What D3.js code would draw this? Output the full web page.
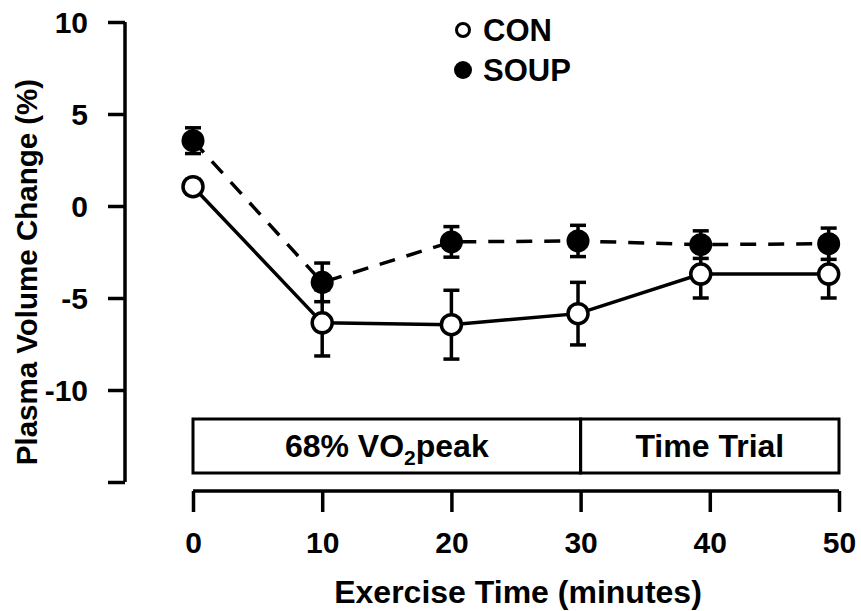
<!DOCTYPE html>
<html>
<head>
<meta charset="utf-8">
<script src="https://cdn.jsdelivr.net/npm/d3@7"></script>
<style>
  body { margin: 0; background: #fff; }
  svg text { font-family: "Liberation Sans", Arial, sans-serif; font-weight: bold; fill: #000; }
</style>
</head>
<body>
<svg id="chart" width="861" height="611"></svg>
<script>
// data
const times = [0, 10, 20, 29.8, 39.3, 49.2];
const conMean = [1.05, -6.35, -6.45, -5.85, -3.7, -3.7];
const conErr = [0.4, 1.8, 1.87, 1.7, 1.3, 1.3];
const soupMean = [3.55, -4.15, -1.95, -1.9, -2.1, -2.05];
const soupErr = [0.7, 1.05, 0.83, 0.85, 0.75, 0.85];
const xTicks = [0, 10, 20, 30, 40, 50];
const yTicks = [10, 5, 0, -5, -10, -15];
const yLabels = ["10", "5", "0", "-5", "-10", ""];
const phases = [
    { name: "68% VO", sub: "2", rest: "peak", start: 0, end: 30 },
    { name: "Time Trial", sub: "", rest: "", start: 30, end: 50 }
];
const seriesNames = ["CON", "SOUP"];

const svg = d3.select("#chart");
const sw = 3.5;

const x = d3.scaleLinear().domain([0, 50]).range([193, 839]);
const y = d3.scaleLinear().domain([-15, 10]).range([482, 22]);

// Y axis
const yAxis = svg.append("g")
    .attr("transform", "translate(125,0)")
    .call(d3.axisLeft(y).tickValues(yTicks).tickSize(17).tickSizeOuter(0)
        .tickFormat((d, i) => yLabels[i]).tickPadding(20));
yAxis.select(".domain").attr("stroke-width", sw).attr("d", `M0,${y(10)}V${y(-15)}`);
yAxis.selectAll(".tick line").attr("stroke-width", sw);
yAxis.selectAll(".tick text").style("font-size", "30px").attr("dy", "0.36em");

// X axis
const xAxisY = 491;
const xAxis = svg.append("g")
    .attr("transform", `translate(0,${xAxisY})`)
    .call(d3.axisBottom(x).tickValues(xTicks).tickSize(21).tickSizeOuter(0).tickPadding(20));
xAxis.select(".domain").attr("stroke-width", sw).attr("d", `M${x(0)},0H${x(50)}`);
xAxis.selectAll(".tick line").attr("stroke-width", sw);
xAxis.selectAll(".tick text").style("font-size", "30px");

// axis titles
svg.append("text")
    .attr("x", x(25) + 2)
    .attr("y", 603)
    .attr("text-anchor", "middle")
    .style("font-size", "32px")
    .text("Exercise Time (minutes)");

svg.append("text")
    .attr("transform", `translate(37,${y(-2.5) + 20}) rotate(-90)`)
    .attr("text-anchor", "middle")
    .style("font-size", "29.5px")
    .text("Plasma Volume Change (%)");

// phase boxes
const boxTop = 419, boxBottom = 473;
const pg = svg.append("g");
pg.selectAll("rect")
    .data(phases)
    .enter()
    .append("rect")
    .attr("x", d => x(d.start))
    .attr("y", boxTop)
    .attr("width", d => x(d.end) - x(d.start))
    .attr("height", boxBottom - boxTop)
    .attr("fill", "none")
    .attr("stroke", "#000")
    .attr("stroke-width", 3);
const pt = pg.selectAll("text.phase")
    .data(phases)
    .enter()
    .append("text")
    .attr("class", "phase")
    .attr("x", d => (x(d.start) + x(d.end)) / 2)
    .attr("y", (boxTop + boxBottom) / 2 + 11)
    .attr("text-anchor", "middle")
    .style("font-size", "32px");
pt.append("tspan").text(d => d.name);
pt.filter(d => d.sub).append("tspan")
    .attr("dy", 8).style("font-size", "21px").text(d => d.sub);
pt.filter(d => d.rest).append("tspan")
    .attr("dy", -8).text(d => d.rest);

// series
const con = times.map((t, i) => ({ t, m: conMean[i], e: conErr[i] }));
const soup = times.map((t, i) => ({ t, m: soupMean[i], e: soupErr[i] }));

const line = d3.line().x(d => x(d.t)).y(d => y(d.m));

svg.append("path").datum(con)
    .attr("d", line).attr("fill", "none").attr("stroke", "#000").attr("stroke-width", sw);
svg.append("path").datum(soup)
    .attr("d", line).attr("fill", "none").attr("stroke", "#000").attr("stroke-width", sw)
    .attr("stroke-dasharray", "16,12");

// error bars
const drawErr = function (data) {
    const g = svg.append("g").attr("stroke", "#000").attr("stroke-width", sw);
    data.forEach(d => {
        const cx = x(d.t);
        g.append("line").attr("x1", cx).attr("x2", cx).attr("y1", y(d.m + d.e)).attr("y2", y(d.m - d.e));
        [d.m + d.e, d.m - d.e].forEach(v => {
            g.append("line").attr("x1", cx - 8).attr("x2", cx + 8).attr("y1", y(v)).attr("y2", y(v));
        });
    });
};
drawErr(con);
drawErr(soup);

// markers
svg.append("g").selectAll("circle")
    .data(con).enter().append("circle")
    .attr("cx", d => x(d.t)).attr("cy", d => y(d.m)).attr("r", 10)
    .attr("fill", "#fff").attr("stroke", "#000").attr("stroke-width", sw);
svg.append("g").selectAll("circle")
    .data(soup).enter().append("circle")
    .attr("cx", d => x(d.t)).attr("cy", d => y(d.m)).attr("r", 11.5)
    .attr("fill", "#000");

// legend
const lg = svg.append("g");
seriesNames.forEach((name, i) => {
    const ly = 30 + i * 40;
    lg.append("circle")
        .attr("cx", 463).attr("cy", ly)
        .attr("r", i === 0 ? 6.5 : 9)
        .attr("fill", i === 0 ? "#fff" : "#000")
        .attr("stroke", "#000").attr("stroke-width", i === 0 ? 3 : 0);
    lg.append("text")
        .attr("x", 483).attr("y", ly + 11)
        .style("font-size", "31px")
        .text(name);
});
</script>
</body>
</html>
